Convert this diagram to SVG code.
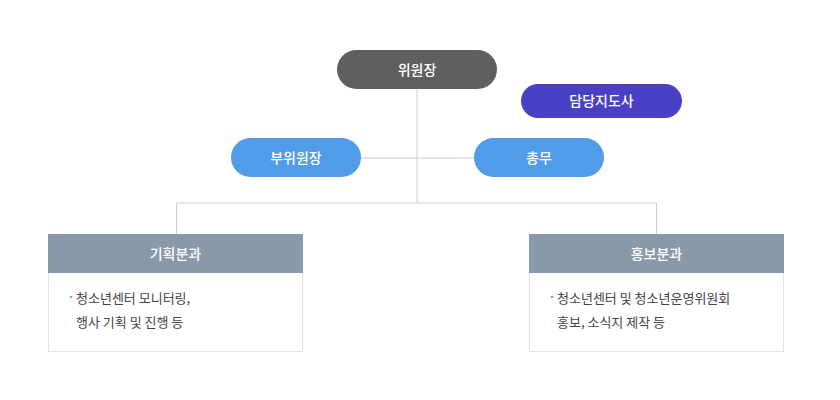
<svg xmlns="http://www.w3.org/2000/svg" width="840" height="400" viewBox="0 0 840 400">
<style>
text{font-family:"Noto Sans CJK KR","Noto Sans",sans-serif;}
.pt{fill:#fff;font-size:14px;text-anchor:middle;font-weight:500}
.ln{stroke:#cfcfcf;stroke-width:1;fill:none}
.hd{fill:#8a99aa}
.bd{fill:#fff;stroke:#e3e3e3}
.bt{fill:#444;font-size:13px}
.b{fill:#999;font-size:8px}
</style>
<rect width="840" height="400" fill="#fff"/>
<g id="connectors">
<path class="ln" d="M417 89V203M361 158H474M176.5 234V203H656.5V234"/>
</g>
<g id="n1"><rect x="337" y="50" width="160" height="39" rx="19.5" fill="#5f5f5f"/><text class="pt" x="417" y="75">위원장</text></g>
<g id="n2"><rect x="521" y="84" width="161" height="34" rx="17" fill="#4a40c4"/><text class="pt" x="601.5" y="106">담당지도사</text></g>
<g id="n3"><rect x="231" y="138" width="130" height="39" rx="19.5" fill="#519ce9"/><text class="pt" x="296" y="163">부위원장</text></g>
<g id="n4"><rect x="474" y="138" width="130" height="39" rx="19.5" fill="#519ce9"/><text class="pt" x="539" y="163">총무</text></g>
<g id="n5">
<rect class="bd" x="48.5" y="234.5" width="254" height="117"/>
<rect class="hd" x="48" y="234" width="255" height="39"/>
<text class="pt" x="175.5" y="259">기획분과</text>
<text class="b" x="67" y="300">▪</text>
<text class="bt" x="76" y="303">청소년센터 모니터링,</text>
<text class="bt" x="76" y="327">행사 기획 및 진행 등</text>
</g>
<g id="n6">
<rect class="bd" x="529.5" y="234.5" width="254" height="117"/>
<rect class="hd" x="529" y="234" width="255" height="39"/>
<text class="pt" x="656.5" y="259">홍보분과</text>
<text class="b" x="548" y="300">▪</text>
<text class="bt" x="557" y="303">청소년센터 및 청소년운영위원회</text>
<text class="bt" x="557" y="327">홍보, 소식지 제작 등</text>
</g>
</svg>
